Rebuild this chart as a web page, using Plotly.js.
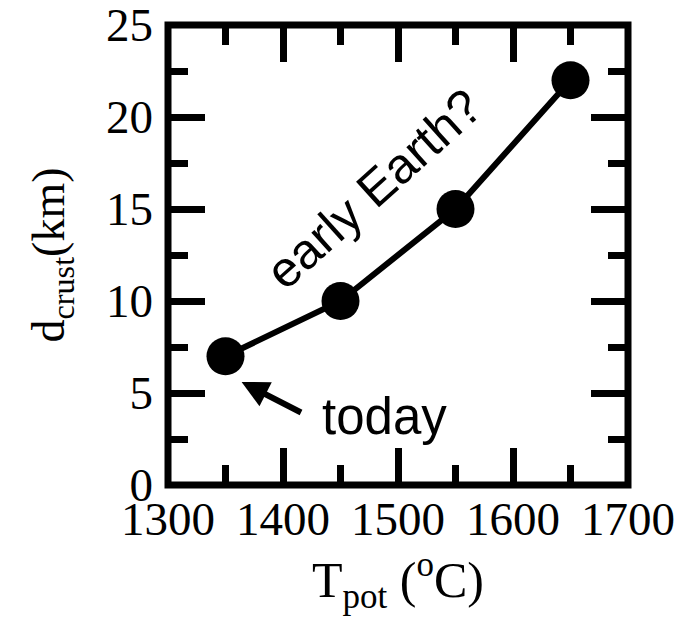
<!DOCTYPE html>
<html>
<head>
<meta charset="utf-8">
<script src="https://cdn.plot.ly/plotly-3.0.1.min.js"></script>
<style>html,body{margin:0;padding:0;background:#fff;}</style>
</head>
<body>
<div id="chart" style="width:683px;height:633px;"></div>
<script>
const tpot = [1350, 1450, 1550, 1650];
const dcrust = [7, 10, 15, 22];
const xTickVals = [1300, 1400, 1500, 1600, 1700];
const xTickText = ['1300', '1400', '1500', '1600', '1700'];
const yTickVals = [0, 5, 10, 15, 20, 25];
const yTickText = ['0', '5', '10', '15', '20', '25'];

const serif = 'Liberation Serif, Times New Roman, serif';
const sans = 'Liberation Sans, Arial, sans-serif';

const trace = {
  x: tpot,
  y: dcrust,
  type: 'scatter',
  mode: 'lines+markers',
  line: {color: '#000', width: 6},
  marker: {color: '#000', size: 38},
  cliponaxis: false,
  hoverinfo: 'skip'
};

const axisCommon = {
  showline: false,
  mirror: 'ticks',
  ticks: 'inside',
  ticklen: 37,
  tickwidth: 7,
  tickcolor: '#000',
  showgrid: false,
  zeroline: false,
  ticklabeloverflow: 'allow',
  tickfont: {family: serif, size: 47, color: '#000'}
};

const layout = {
  width: 683,
  height: 633,
  margin: {l: 168, r: 55, t: 24.5, b: 148},
  paper_bgcolor: '#fff',
  plot_bgcolor: '#fff',
  showlegend: false,
  xaxis: Object.assign({}, axisCommon, {
    range: [1300, 1700],
    tickmode: 'array',
    tickvals: xTickVals,
    ticktext: xTickText,
    ticklabelstandoff: 2,
    minor: {dtick: 50, tick0: 1300, ticks: 'inside', ticklen: 20, tickwidth: 7, tickcolor: '#000', showgrid: false},
    title: {text: 'T<sub>pot</sub> (<sup>o</sup>C)', font: {family: serif, size: 50, color: '#000'}, standoff: 8}
  }),
  yaxis: Object.assign({}, axisCommon, {
    range: [0, 25],
    tickmode: 'array',
    tickvals: yTickVals,
    ticktext: yTickText,
    ticklabelstandoff: 14,
    minor: {dtick: 2.5, tick0: 0, ticks: 'inside', ticklen: 20, tickwidth: 7, tickcolor: '#000', showgrid: false},
    title: {text: 'd<sub>crust</sub>(km)', font: {family: serif, size: 46, color: '#000'}, standoff: 26}
  }),
  shapes: [
    {type: 'rect', xref: 'paper', yref: 'paper', x0: 0, x1: 1, y0: 0, y1: 1,
     line: {color: '#000', width: 7}, fillcolor: 'rgba(0,0,0,0)', layer: 'above'}
  ],
  annotations: [
    {
      x: 1364, y: 5.6, xref: 'x', yref: 'y',
      ax: 1417, ay: 3.9, axref: 'x', ayref: 'y',
      text: '', showarrow: true, arrowhead: 2, arrowsize: 0.9, arrowwidth: 6, arrowcolor: '#000'
    },
    {
      x: 1488, y: 3.7, xref: 'x', yref: 'y',
      text: 'today', showarrow: false,
      font: {family: sans, size: 51, color: '#000'}
    },
    {
      x: 1479, y: 16.1, xref: 'x', yref: 'y',
      text: 'early Earth?', showarrow: false, textangle: -42,
      font: {family: sans, size: 50, color: '#000'}
    }
  ]
};

Plotly.newPlot('chart', [trace], layout, {staticPlot: true, displayModeBar: false});
</script>
</body>
</html>
